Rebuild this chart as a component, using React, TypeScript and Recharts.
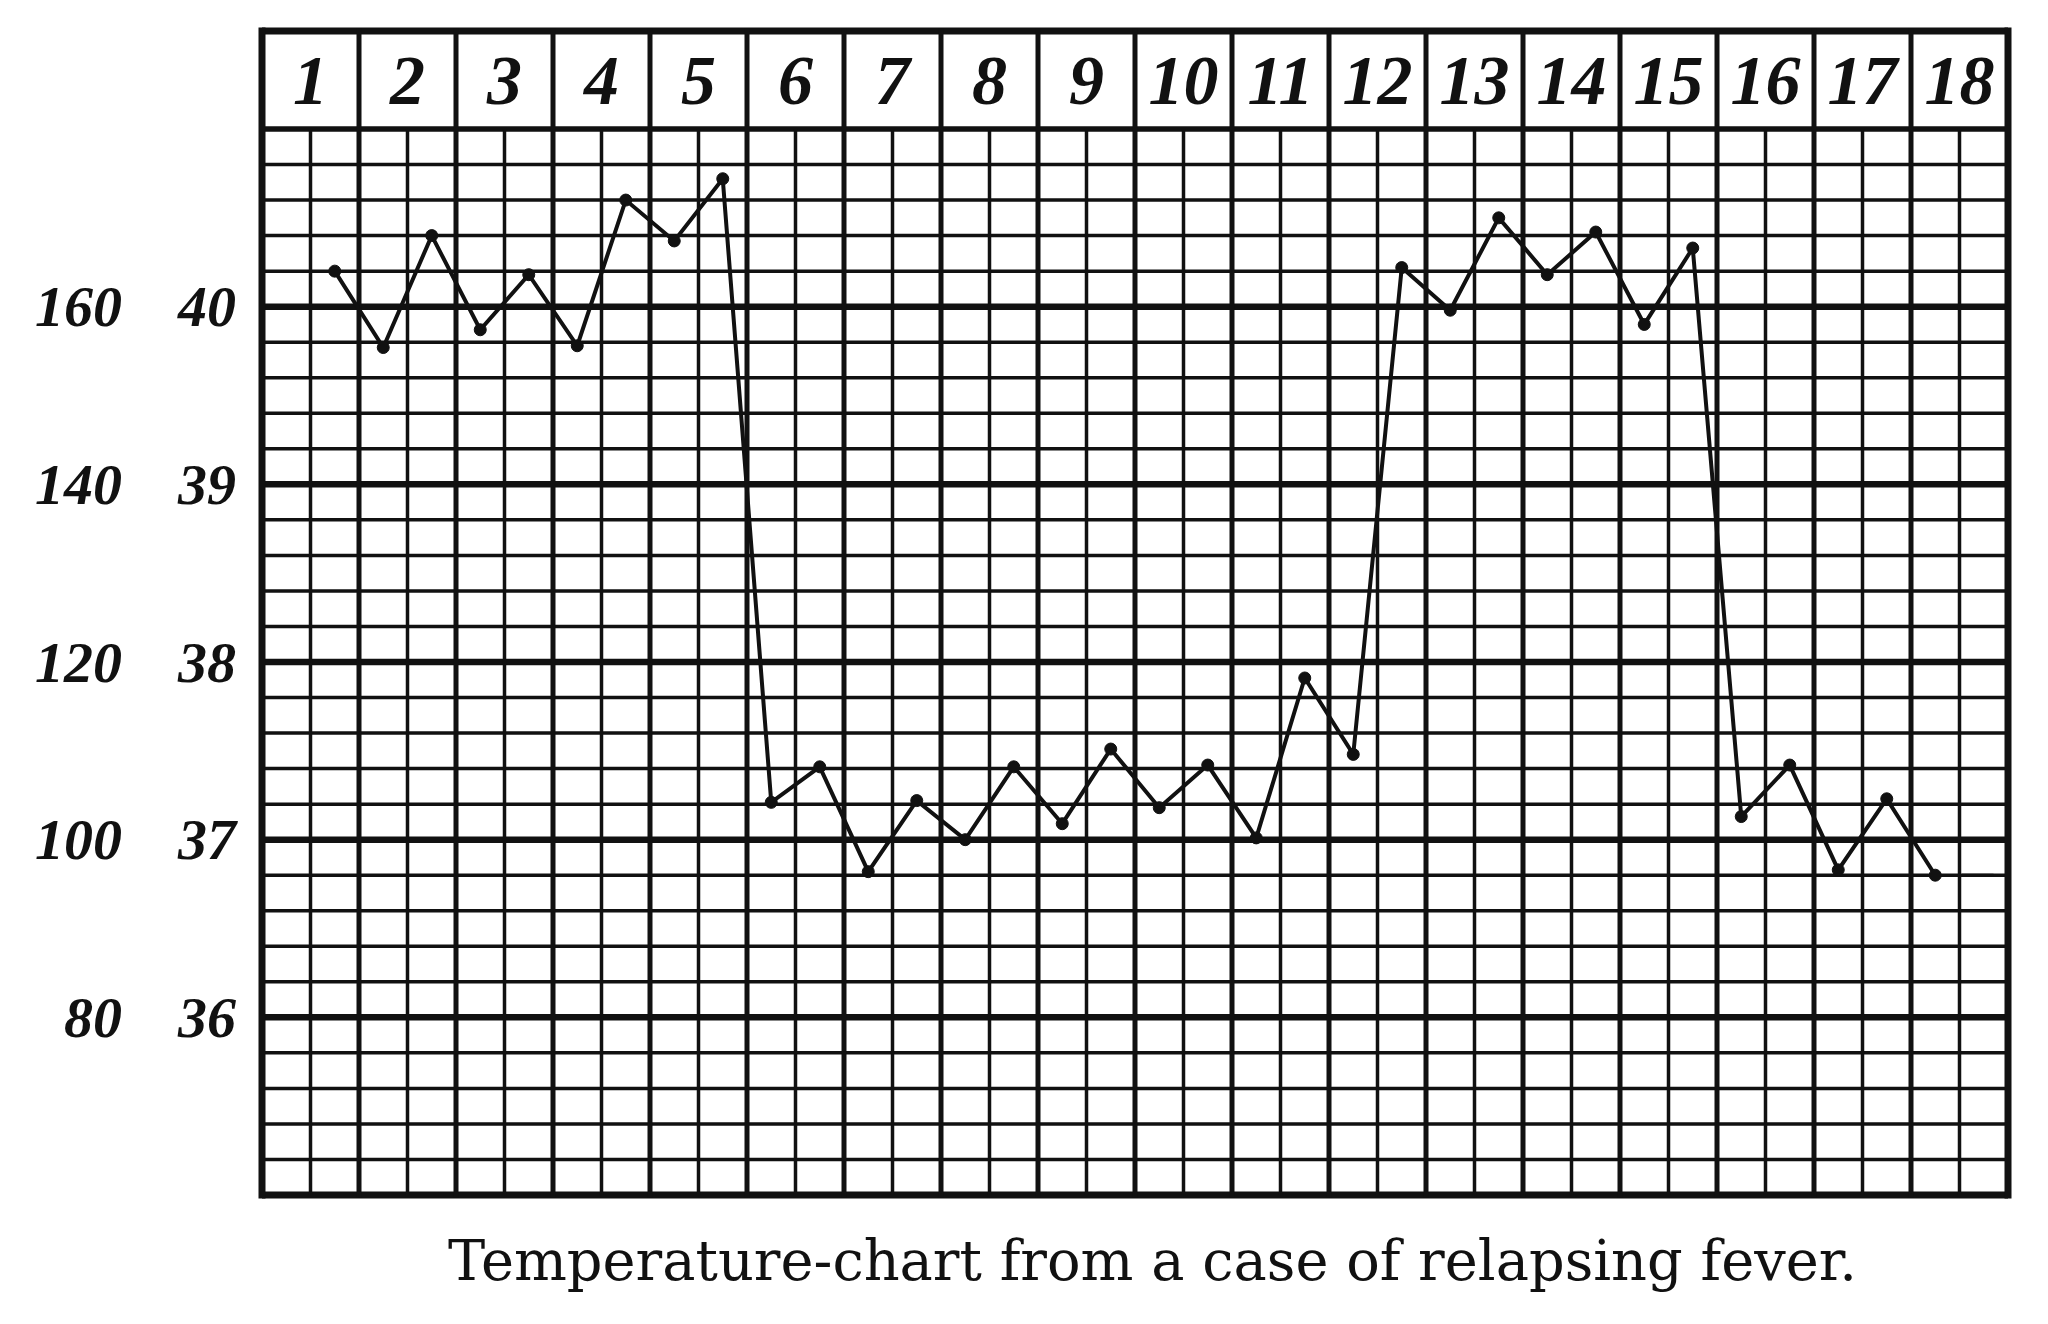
import React from 'react';
import { LineChart, Line, XAxis, YAxis, ReferenceLine } from 'recharts';

const WIDTH = 2048;
const HEIGHT = 1324;

// day numbers written in the header boxes
const days = [1, 2, 3, 4, 5, 6, 7, 8, 9, 10, 11, 12, 13, 14, 15, 16, 17, 18];
// temperature (°C) and matching pulse scale on the left
const tempTicks = [36, 37, 38, 39, 40];
const pulseTicks = [80, 100, 120, 140, 160];

// two readings per day (morning, evening), °C; null = no reading
const readings = [
  null, 40.2,
  39.77, 40.4,
  39.87, 40.18,
  39.78, 40.6,
  40.37, 40.72,
  37.21, 37.41,
  36.82, 37.22,
  37.0, 37.41,
  37.09, 37.51,
  37.18, 37.42,
  37.01, 37.91,
  37.48, 40.22,
  39.98, 40.5,
  40.18, 40.42,
  39.9, 40.33,
  37.13, 37.42,
  36.83, 37.23,
  36.8, null,
];

// short tail stroke drawn after the last reading
const tailMark = { from: 35.05, to: 35.7, t: 36.8 };

const T_MIN = 35;
const T_MAX = 41;
const HEADER = 0.5516; // header band height, in degrees
const T_TOP = T_MAX + HEADER;
const SLOTS = days.length * 2;

const INK = '#111';

const data = readings.map((t, i) => ({ x: i + 0.5, t }));

const gridRows: number[] = [];
for (let i = 0; i <= (T_MAX - T_MIN) * 5; i++) gridRows.push(+(T_MIN + i * 0.2).toFixed(1));
const gridCols: number[] = [];
for (let i = 0; i <= SLOTS; i++) gridCols.push(i);

const rowWidth = (v: number) => {
  if (v === T_MIN) return 7;
  if (v === T_MAX) return 5.5;
  return Number.isInteger(v) ? 6.5 : 3.5;
};

const labelFont = '"Liberation Serif", "DejaVu Serif", serif';

const ScaleTick = (props: any) => {
  const { y, payload, index } = props;
  return (
    <g fill={INK} fontFamily={labelFont} fontStyle="italic" fontWeight="bold" fontSize={58}>
      <text x={122} y={y} textAnchor="end" dominantBaseline="central">
        {pulseTicks[index]}
      </text>
      <text x={236} y={y} textAnchor="end" dominantBaseline="central">
        {payload.value}
      </text>
    </g>
  );
};

const DayTick = (props: any) => {
  const { x, payload } = props;
  return (
    <text
      x={x}
      y={80}
      textAnchor="middle"
      dominantBaseline="central"
      fill={INK}
      fontFamily={labelFont}
      fontStyle="italic"
      fontWeight="bold"
      fontSize={70}
    >
      {(payload.value + 1) / 2}
    </text>
  );
};

export default function App() {
  return (
    <div style={{ position: 'absolute', left: 0, top: 0, width: WIDTH, height: HEIGHT, background: '#fff' }}>
      <LineChart
        width={WIDTH}
        height={HEIGHT}
        data={data}
        margin={{ top: 30, right: 40, bottom: 129, left: 12 }}
      >
        <XAxis dataKey="x" type="number" domain={[0, SLOTS]} hide />
        <XAxis
          xAxisId="days"
          orientation="top"
          type="number"
          dataKey="x"
          domain={[0, SLOTS]}
          ticks={days.map((d) => d * 2 - 1)}
          interval={0}
          height={1}
          axisLine={false}
          tickLine={false}
          tick={<DayTick />}
        />
        <YAxis
          type="number"
          domain={[T_MIN, T_TOP]}
          ticks={tempTicks}
          interval={0}
          width={250}
          axisLine={false}
          tickLine={false}
          tick={<ScaleTick />}
        />

        {gridRows.map((v) => (
          <ReferenceLine
            key={'r' + v}
            y={v}
            stroke={INK}
            strokeWidth={rowWidth(v)}
            ifOverflow="visible"
          />
        ))}
        <ReferenceLine y={T_TOP} stroke={INK} strokeWidth={7} ifOverflow="visible" />

        {gridCols.map((c) =>
          c % 2 === 0 ? (
            <ReferenceLine
              key={'c' + c}
              segment={[{ x: c, y: T_MIN }, { x: c, y: T_TOP }]}
              stroke={INK}
              strokeWidth={c === 0 || c === SLOTS ? 7 : 5}
              strokeLinecap="square"
              ifOverflow="visible"
            />
          ) : (
            <ReferenceLine
              key={'c' + c}
              segment={[{ x: c, y: T_MIN }, { x: c, y: T_MAX }]}
              stroke={INK}
              strokeWidth={3.5}
              ifOverflow="visible"
            />
          )
        )}

        <ReferenceLine
          segment={[{ x: tailMark.from, y: tailMark.t }, { x: tailMark.to, y: tailMark.t }]}
          stroke={INK}
          strokeWidth={3}
          ifOverflow="visible"
        />

        <Line
          type="linear"
          dataKey="t"
          stroke={INK}
          strokeWidth={4}
          dot={{ r: 6, fill: INK, stroke: INK, strokeWidth: 1 }}
          activeDot={false}
          connectNulls={false}
          isAnimationActive={false}
        />
      </LineChart>
      <svg
        width={WIDTH}
        height={94}
        style={{ position: 'absolute', left: 0, top: 1220 }}
      >
        <text
          x={448}
          y={60}
          textLength={1409}
          lengthAdjust="spacingAndGlyphs"
          fill={INK}
          fontFamily='"DejaVu Serif", "Liberation Serif", serif'
          fontSize={56}
        >
          Temperature-chart from a case of relapsing fever.
        </text>
      </svg>
    </div>
  );
}
